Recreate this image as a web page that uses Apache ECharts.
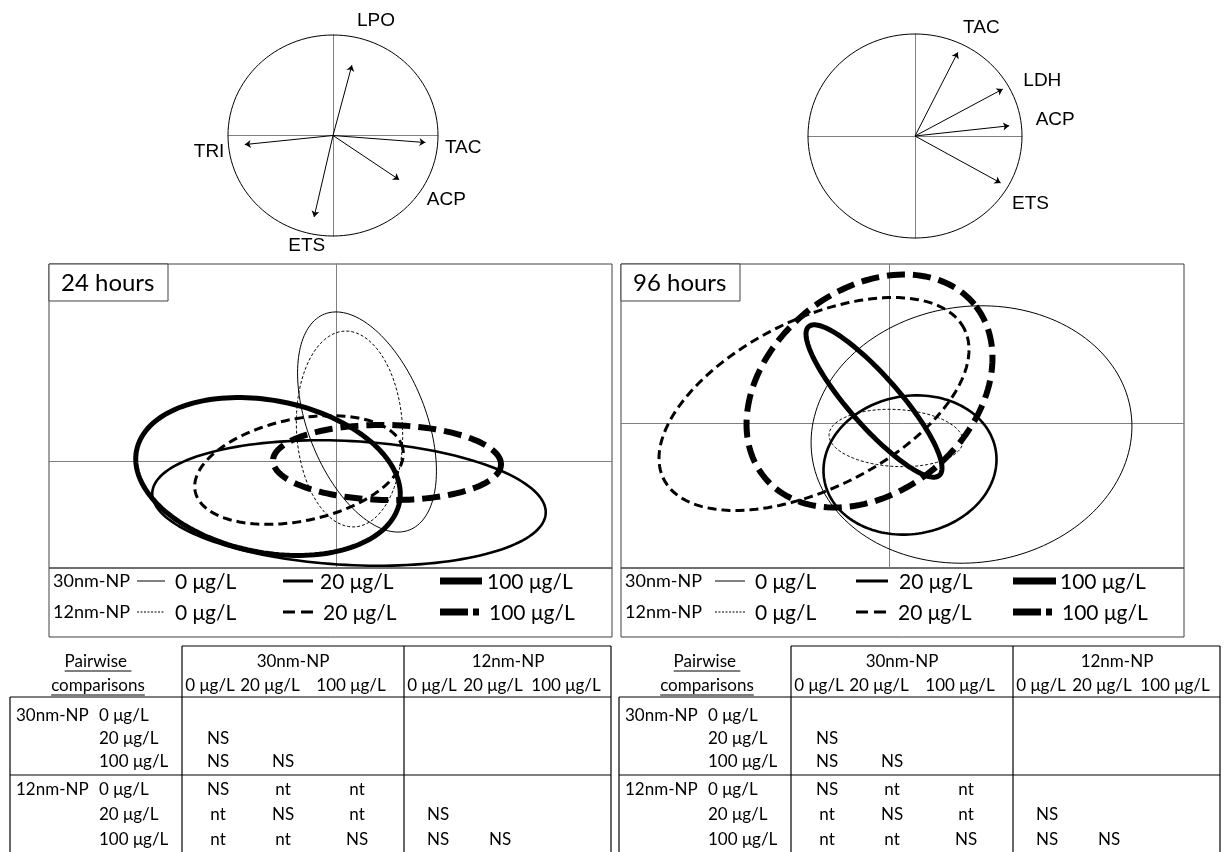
<!DOCTYPE html>
<html>
<head>
<meta charset="utf-8">
<script src="https://cdn.jsdelivr.net/npm/echarts@6/dist/echarts.min.js"></script>
<style>
  html, body { margin: 0; padding: 0; background: #fff; }
  #main { width: 1224px; height: 852px; }
</style>
</head>
<body>
<div id="main"></div>
<script>
  // correlation circles (arrow tips on the unit circle, label anchors)
  const vars24 = ['LPO', 'TAC', 'TRI', 'ACP', 'ETS'];
  const arrows24 = [[0.18, 0.70], [0.88, -0.07], [-0.84, -0.09], [0.63, -0.44], [-0.18, -0.81]];
  const labels24 = [[0.41, 1.14], [1.24, -0.12], [-1.18, -0.16], [1.08, -0.64], [-0.25, -1.10]];
  const vars96 = ['TAC', 'LDH', 'ACP', 'ETS'];
  const arrows96 = [[0.40, 0.82], [0.82, 0.46], [0.88, 0.10], [0.80, -0.46]];
  const labels96 = [[0.62, 1.06], [1.19, 0.54], [1.31, 0.16], [1.08, -0.66]];

  // confidence ellipses: [cx, cy, semi-major, semi-minor, angle in degrees]
  const groups = ['30nm-NP 0 μg/L', '30nm-NP 20 μg/L', '30nm-NP 100 μg/L',
                  '12nm-NP 0 μg/L', '12nm-NP 20 μg/L', '12nm-NP 100 μg/L'];
  const ellipses24 = [
    [0.31, 0.39, 1.16, 0.59, 111.5],
    [0.13, -0.42, 1.97, 0.62, -3],
    [-0.68, -0.155, 1.34, 0.76, -11.2],
    [0.135, 0.32, 0.98, 0.53, 93],
    [-0.37, -0.09, 1.06, 0.51, 11.7],
    [0.51, -0.015, 1.14, 0.375, -1],
  ];
  const ellipses96 = [
    [0.825, -0.115, 1.61, 1.28, 8],
    [0.21, -0.42, 0.87, 0.69, 10],
    [-0.15, 0.22, 0.99, 0.25, 131.3],
    [0.07, -0.15, 0.67, 0.285, -3],
    [-0.75, 0.19, 1.68, 0.845, 26.5],
    [-0.195, 0.32, 1.36, 1.01, 39.6],
  ];

  // pairwise comparison tables
  const sizes = ['30nm-NP', '12nm-NP'];
  const concs = ['0 μg/L', '20 μg/L', '100 μg/L'];
  const cells24 = [[], ['NS'], ['NS', 'NS'], ['NS', 'nt', 'nt'], ['nt', 'NS', 'nt', 'NS'], ['nt', 'nt', 'NS', 'NS', 'NS']];
  const cells96 = [[], ['NS'], ['NS', 'NS'], ['NS', 'nt', 'nt'], ['nt', 'NS', 'nt', 'NS'], ['nt', 'nt', 'NS', 'NS', 'NS']];

  const styles = [
    { lineWidth: 1 },
    { lineWidth: 2.6 },
    { lineWidth: 5 },
    { lineWidth: 1, lineDash: [3, 2] },
    { lineWidth: 3, lineDash: [9, 5] },
    { lineWidth: 6, lineDash: [18, 8] },
  ];

  const FONT = 'Lato, "Open Sans", sans-serif';
  const ctx = document.createElement('canvas').getContext('2d');
  function textWidth(s, font) {
    ctx.font = font;
    return ctx.measureText(s).width;
  }

  function hiddenAxis(min, max, idx) {
    return {
      type: 'value', min: min, max: max, gridIndex: idx,
      axisLine: { show: true, onZero: true, lineStyle: { color: '#808080', width: 1 } },
      axisTick: { show: false }, axisLabel: { show: false }, splitLine: { show: false },
    };
  }

  function ellipseSeries(list, axisIdx) {
    return list.map((e, i) => ({
      type: 'custom',
      name: groups[i],
      xAxisIndex: axisIdx, yAxisIndex: axisIdx,
      data: [e],
      renderItem(params, api) {
        const cx = api.value(0), cy = api.value(1), a = api.value(2), b = api.value(3);
        const t = api.value(4) * Math.PI / 180;
        const pts = [];
        for (let k = 0; k < 160; k++) {
          const u = k / 160 * Math.PI * 2;
          const ex = a * Math.cos(u), ey = b * Math.sin(u);
          pts.push(api.coord([cx + ex * Math.cos(t) - ey * Math.sin(t), cy + ex * Math.sin(t) + ey * Math.cos(t)]));
        }
        return {
          type: 'polygon',
          shape: { points: pts },
          style: Object.assign({ fill: 'none', stroke: '#000' }, styles[i]),
        };
      },
    }));
  }

  function circleSeries(names, tips, anchors, axisIdx) {
    return [
      {
        type: 'custom', xAxisIndex: axisIdx, yAxisIndex: axisIdx, data: [[0, 0, 1]],
        renderItem(params, api) {
          const c = api.coord([0, 0]);
          const r = api.size([1, 1]);
          return { type: 'ellipse', shape: { cx: c[0], cy: c[1], rx: r[0], ry: r[1] },
                   style: { fill: 'none', stroke: '#000', lineWidth: 1 } };
        },
      },
      {
        type: 'lines', coordinateSystem: 'cartesian2d', xAxisIndex: axisIdx, yAxisIndex: axisIdx,
        symbol: ['none', 'arrow'], symbolSize: 6,
        lineStyle: { color: '#000', width: 1, opacity: 1 },
        data: tips.map(p => ({ coords: [[0, 0], p] })),
      },
      {
        type: 'custom', xAxisIndex: axisIdx, yAxisIndex: axisIdx,
        data: anchors.map((p, i) => [p[0], p[1], i]),
        renderItem(params, api) {
          const c = api.coord([api.value(0), api.value(1)]);
          return { type: 'text', x: c[0], y: c[1],
                   style: { text: names[api.value(2)], font: '19px "Liberation Sans", Arial, sans-serif',
                            fill: '#000', align: 'center', verticalAlign: 'middle' } };
        },
      },
    ];
  }

  function panelGraphics(x0, title, titleW, leg) {
    const g = [];
    g.push({ type: 'rect', shape: { x: x0, y: 264, width: titleW, height: 37 },
             style: { fill: '#fff', stroke: '#404040', lineWidth: 1 }, z: 10 });
    g.push({ type: 'text', x: x0 + 12, y: 283, z: 11,
             style: { text: title, font: '24px ' + FONT, fill: '#000', verticalAlign: 'middle' } });
    g.push({ type: 'rect', shape: { x: x0, y: 568, width: 563, height: 69 },
             style: { fill: 'none', stroke: '#404040', lineWidth: 1 } });
    const rowsY = [581, 612];
    sizes.forEach((s, r) => {
      g.push({ type: 'text', x: x0 + 4, y: rowsY[r],
               style: { text: s, font: '18px ' + FONT, fill: '#000', verticalAlign: 'middle' } });
      concs.forEach((c, k) => {
        const st = leg.samples[r * 3 + k];
        g.push({ type: 'line', shape: { x1: x0 + leg.line[k][0], y1: rowsY[r], x2: x0 + leg.line[k][1], y2: rowsY[r] },
                 style: Object.assign({ stroke: '#000' }, st) });
        g.push({ type: 'text', x: x0 + leg.text[r][k], y: rowsY[r] + 1,
                 style: { text: c, font: '21px ' + FONT, fill: '#000', verticalAlign: 'middle' } });
      });
    });
    return g;
  }

  function tableGraphics(x0, cells) {
    const g = [];
    const f = '17px ' + FONT;
    const ln = (x1, y1, x2, y2) => g.push({ type: 'line', shape: { x1: x0 + x1, y1: y1, x2: x0 + x2, y2: y2 },
                                            style: { stroke: '#000', lineWidth: 1.2 } });
    const tx = (s, x, y, align) => g.push({ type: 'text', x: x0 + x, y: y,
      style: { text: s, font: f, fill: '#000', align: align, verticalAlign: 'middle' } });
    ln(182, 646, 611, 646);
    ln(182, 646, 182, 852);
    ln(404, 646, 404, 852);
    ln(611, 646, 611, 852);
    ln(10, 697, 611, 697);
    ln(10, 775, 611, 775);
    ln(10, 697, 10, 852);

    [['Pairwise ', 662], ['comparisons', 686]].forEach(([s, y]) => {
      tx(s, 98, y, 'center');
      const w = textWidth(s, f);
      ln(98 - w / 2, y + 9, 98 + w / 2, y + 9);
    });
    tx(sizes[0], 293, 662, 'center');
    tx(sizes[1], 508, 662, 'center');
    const headX = [210, 270, 351, 432, 493, 566];
    headX.forEach((x, k) => tx(concs[k % 3], x, 686, 'center'));

    const rowY = [716, 739, 762, 790, 815, 840];
    const colX = [218, 283, 357, 438, 500];
    rowY.forEach((y, r) => {
      if (r % 3 === 0) tx(sizes[r / 3], 16, y, 'left');
      tx(concs[r % 3], 99, y, 'left');
      cells[r].forEach((v, c) => tx(v, colX[c], y, 'center'));
    });
    return g;
  }

  const legendSamples = [
    { lineWidth: 1 }, { lineWidth: 3 }, { lineWidth: 7 },
    { lineWidth: 1, lineDash: [2, 1.5] }, { lineWidth: 3, lineDash: [12, 6] }, { lineWidth: 7, lineDash: [28, 5, 6, 60] },
  ];

  const chart = echarts.init(document.getElementById('main'), null, { renderer: 'canvas' });

  const option = {
    animation: false,
    backgroundColor: '#fff',
    grid: [
      { left: 228, top: 35, width: 210, height: 201 },
      { left: 808, top: 34, width: 214, height: 204 },
      { left: 49, top: 264, width: 563, height: 304, show: true, borderColor: '#404040', borderWidth: 1 },
      { left: 621, top: 264, width: 563, height: 304, show: true, borderColor: '#404040', borderWidth: 1 },
    ],
    xAxis: [hiddenAxis(-1, 1, 0), hiddenAxis(-1, 1, 1), hiddenAxis(-2.87, 2.76, 2), hiddenAxis(-2.68, 2.95, 3)],
    yAxis: [hiddenAxis(-1, 1, 0), hiddenAxis(-1, 1, 1), hiddenAxis(-1.07, 1.97, 2), hiddenAxis(-1.45, 1.59, 3)],
    series: [].concat(
      circleSeries(vars24, arrows24, labels24, 0),
      circleSeries(vars96, arrows96, labels96, 1),
      ellipseSeries(ellipses24, 2),
      ellipseSeries(ellipses96, 3)
    ),
    graphic: [].concat(
      panelGraphics(49, '24 hours', 119, {
        line: [[88, 116], [234, 264], [391, 433]],
        text: [[126, 271, 438], [126, 274, 440]],
        samples: legendSamples,
      }),
      panelGraphics(621, '96 hours', 119, {
        line: [[94, 124], [235, 267], [392, 435]],
        text: [[134, 278, 439], [134, 277, 441]],
        samples: legendSamples,
      }),
      tableGraphics(0, cells24),
      tableGraphics(609, cells96)
    ),
  };

  chart.setOption(option);
</script>
</body>
</html>
